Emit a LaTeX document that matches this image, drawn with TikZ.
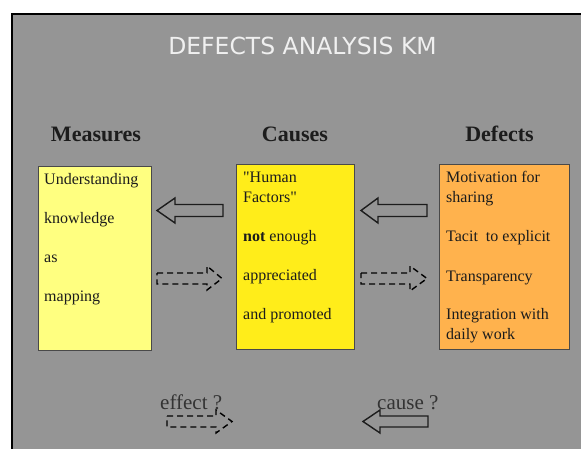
\documentclass[tikz,border=0pt]{standalone}
\usepackage{fontspec}
\setmainfont{Liberation Serif}[Ligatures=TeXOff]
\newfontfamily\titlefont{DejaVu Sans}
\definecolor{bggray}{HTML}{959595}
\definecolor{measfill}{HTML}{FFFF80}
\definecolor{causefill}{HTML}{FFED1A}
\definecolor{defectfill}{HTML}{FFB24D}
\definecolor{ink}{HTML}{1C1C1C}
\definecolor{titleink}{HTML}{F0F0F0}
\tikzset{
  boxstyle/.style={draw=ink!80, line width=0.9pt, inner sep=0pt},
  linetext/.style={anchor=base west, inner sep=0pt, text=ink, font=\fontsize{16}{18}\selectfont},
  headtext/.style={anchor=base, inner sep=0pt, text=ink, font=\fontsize{22}{24}\selectfont\bfseries},
  bottomtext/.style={anchor=base west, inner sep=0pt, text=ink!90, font=\fontsize{21}{23}\selectfont},
  solidarrow/.style={draw=ink, line width=1.4pt, line join=miter},
  dasharrow/.style={draw=black, line width=1.4pt, dash pattern=on 6pt off 4pt},
}
\begin{document}
\begin{tikzpicture}[x=1pt,y=-1pt]
\useasboundingbox (0,0) rectangle (581,449);
\fill[white] (0,0) rectangle (581,449);
\fill[bggray] (12,14) rectangle (581,449);
\draw[line width=2pt] (12,449) -- (12,14) -- (581,14);

% title
\node[anchor=base, inner sep=0pt, text=titleink, font=\titlefont\fontsize{23.5}{26}\selectfont] (title) at (302.5,55) {DEFECTS ANALYSIS KM};

% headings
\node[headtext] (hmeas) at (96,142) {Measures};
\node[headtext] (hcause) at (295,142) {Causes};
\node[headtext] (hdef) at (499.5,142) {Defects};

% boxes
\node[boxstyle, fill=measfill, minimum width=113, minimum height=184] (meas) at (94.5,258) {};
\node[boxstyle, fill=causefill, minimum width=118, minimum height=185] (cause) at (295,256.5) {};
\node[boxstyle, fill=defectfill, minimum width=130, minimum height=185] (def) at (504,256.5) {};

% measures text
\node[linetext] (m1) at (44,185) {Understanding};
\node[linetext] (m2) at (44,224) {knowledge};
\node[linetext] (m3) at (44,262) {as};
\node[linetext] (m4) at (44,301) {mapping};

% causes text
\node[linetext] (c1) at (243,183) {"Human};
\node[linetext] (c2) at (243,203) {Factors"};
\node[linetext] (c3) at (243,242) {\textbf{not} enough};
\node[linetext] (c4) at (243,280) {appreciated};
\node[linetext] (c5) at (243,319) {and promoted};

% defects text
\node[linetext] (d1) at (446,183) {Motivation for};
\node[linetext] (d2) at (446,203) {sharing};
\node[linetext] (d3) at (446,242) {Tacit~ to explicit};
\node[linetext] (d4) at (446,281) {Transparency};
\node[linetext] (d5) at (446,319) {Integration with};
\node[linetext] (d6) at (446,339) {daily work};

% bottom labels
\node[bottomtext] (eff) at (160,409) {effect ?};
\node[bottomtext] (cau) at (377,409) {cause ?};

% solid left arrows (cause direction)
\draw[solidarrow] (157,210.5) -- (175,198) -- (175,204.5) -- (223,204.5) -- (223,216.5) -- (175,216.5) -- (175,223) -- cycle;
\draw[solidarrow] (361,210.5) -- (378,198) -- (378,204.5) -- (427,204.5) -- (427,216.5) -- (378,216.5) -- (378,223) -- cycle;
\draw[solidarrow] (363,421.5) -- (380,410) -- (380,416) -- (428,416) -- (428,427) -- (380,427) -- (380,433) -- cycle;

% dashed right arrows (effect direction)
\draw[dasharrow] (157,273) -- (207,273) -- (207,266) -- (222,278.5) -- (207,290) -- (207,284) -- (157,284) -- cycle;
\draw[dasharrow] (361,273) -- (410,273) -- (410,266) -- (427,278.5) -- (410,291) -- (410,284) -- (361,284) -- cycle;
\draw[dasharrow] (167,416) -- (216,416) -- (216,410) -- (232,421.5) -- (216,433) -- (216,427) -- (167,427) -- cycle;
\end{tikzpicture}
\end{document}
